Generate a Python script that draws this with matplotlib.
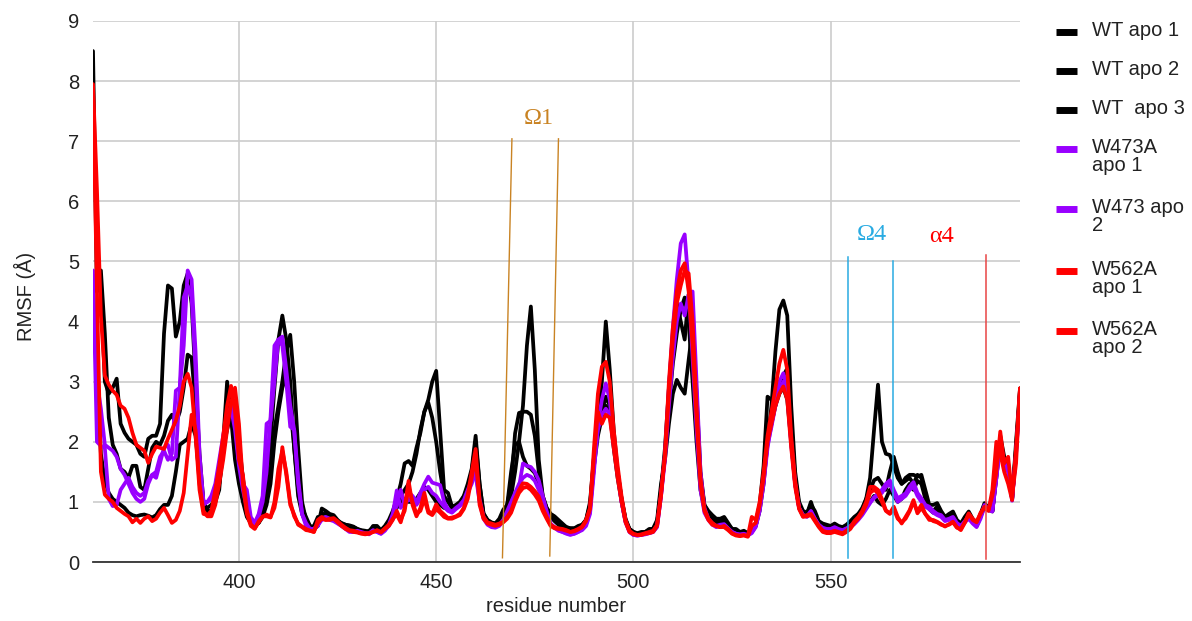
import matplotlib
matplotlib.use("Agg")
import matplotlib.pyplot as plt
from matplotlib.lines import Line2D
import numpy as np

plt.rcParams['font.family'] = ['Liberation Sans', 'DejaVu Sans']

residues = list(range(363, 599))

wt_apo_1 = (
    [8.5,4.5,4.6,3.0,2.8,2.9,3.05,2.3,2.15,2.05, 2.0,1.95,1.8,1.75,2.05,2.1,2.1,2.3,3.8,4.6,
     4.55,3.75,4.0,4.6,4.8,4.3,3.0,1.8,1.0,0.85, 0.85,1.0,1.2,2.0,3.0,2.4,1.7,1.3]
    + [1.0,0.75,0.65,0.65,0.75,1.0,1.4,2.0,2.9,3.7, 4.1,3.7,3.0,1.9,1.2,0.9,0.75,0.6,0.55,0.6]
    + [0.89,0.85,0.8,0.78,0.7,0.64,0.62,0.61,0.59,0.55, 0.53,0.52,0.5,0.6,0.6,0.53,0.6,0.7,0.85,1.05,
       1.3,1.64,1.68,1.6,1.9,2.15,2.5,2.7,3.0,3.18, 2.2,1.2,1.15,0.92,0.95,1.0,1.1,1.3,1.55,2.1]
    + [1.3,0.8,0.7,0.65,0.64,0.7,0.8,0.95,1.1,1.5, 2.0,2.6,3.6,4.25,3.2,1.7,1.1,0.9,0.8,0.75,
       0.68,0.62,0.58,0.56,0.56,0.58,0.62,0.7,0.95,1.7]
    + [2.3,3.0,4.0,3.2,2.2,1.5,1.05,0.72,0.55,0.5, 0.48,0.5,0.5,0.55,0.55,0.65,1.2]
    + [1.9,2.9,3.8,4.3,4.0,3.7,4.45,3.8,2.6,1.4, 0.95,0.85,0.78,0.72,0.72]
    + [0.75,0.65,0.55,0.55,0.5,0.52,0.48,0.5,0.6,0.85, 1.3,2.0,2.6,3.5,4.2,4.35,4.1,2.6,1.5,1.0,
       0.85,0.82,0.95,0.85,0.68,0.64,0.62,0.6,0.64,0.6, 0.58,0.62]
    + [0.68,0.75,0.8,0.86,1.05,1.4,2.2,2.95,2.0,1.8, 1.78,1.6,1.4,1.3,1.4,1.45,1.45,1.42,1.45,1.2,
       0.95,0.95,0.98,0.85,0.75,0.8,0.84,0.7,0.64,0.75, 0.84,0.72,0.62,0.8,0.98,0.9,0.84,1.5,2.1,1.75,
       1.64,1.03,2.0,2.89]
)

wt_apo_2 = (
    [4.5,4.8,4.85,3.8,2.4,1.95,1.8,1.55,1.5,1.4, 1.6,1.6,1.25,1.2,1.55,1.9,2.0,1.95,2.1,2.35,
     2.45,2.3,2.5,2.9,3.45,3.4,2.6,1.6,1.0,0.8, 0.85,1.0,1.4,1.9,2.2,2.5,2.3,1.7]
    + [1.2,0.8,0.65,0.6,0.65,0.8,1.1,1.5,2.2,2.6, 3.0,3.5,3.78,3.0,1.9,1.0,0.7,0.6,0.55,0.7]
    + [0.8,0.8,0.78,0.75,0.68,0.65,0.62,0.6,0.58,0.55, 0.52,0.5,0.52,0.58,0.55,0.52,0.58,0.68,0.8,0.95,
       1.1,1.2,1.3,1.5,1.8,2.2,2.5,2.65,2.4,2.0, 1.5,1.1,1.0,0.9,0.92,0.98,1.08,1.25,1.5,2.0]
    + [1.3,0.81,0.7,0.66,0.64,0.72,0.87,0.95,1.3,2.14, 2.48,2.5,2.5,2.45,2.1,1.5,1.1,0.9,0.8,0.76,
       0.7,0.64,0.58,0.56,0.56,0.6,0.62,0.7,1.0,1.75]
    + [2.2,2.5,2.75,2.6,2.0,1.5,1.05,0.7,0.55,0.5, 0.47,0.48,0.5,0.53,0.56,0.7,1.3]
    + [1.7,2.3,2.8,3.03,2.9,2.8,3.36,3.9,2.8,1.5, 0.95,0.8,0.72,0.68,0.7]
    + [0.7,0.62,0.55,0.52,0.48,0.5,0.46,0.52,0.65,0.95, 1.6,2.75,2.7,2.6,2.9,3.1,3.22,2.3,1.4,0.95,
       0.82,0.8,1.0,0.8,0.66,0.62,0.6,0.58,0.62,0.58, 0.56,0.6]
    + [0.65,0.72,0.8,0.9,1.05,1.2,1.36,1.4,1.3,1.2, 1.5,1.75,1.5,1.3,1.35,1.4,1.3,1.45,1.4,1.1,
       0.9,0.85,0.92,0.8,0.72,0.78,0.8,0.68,0.62,0.72, 0.8,0.7,0.6,0.78,0.95,0.88,0.85,1.45,2.05,1.7,
       1.6,1.05,1.9,2.85]
)

wt_apo_3 = (
    [4.5,3.2,1.8,1.35,1.15,1.05,1.0,0.95,0.9,0.82, 0.78,0.76,0.78,0.79,0.77,0.74,0.78,0.88,0.95,0.95,
     1.1,1.5,1.95,2.0,2.05,2.3,2.1,1.4,0.95,0.9, 0.95,1.05,1.3,1.8,2.3,2.7,2.6,2.0]
    + [1.4,0.9,0.7,0.62,0.65,0.75,0.95,1.3,2.0,2.5, 2.9,3.1,2.6,1.9,1.1,0.8,0.65,0.58,0.6,0.75]
    + [0.75,0.72,0.72,0.7,0.66,0.62,0.6,0.58,0.56,0.54, 0.52,0.5,0.5,0.56,0.55,0.5,0.56,0.65,0.75,0.9,
       1.0,1.05,1.0,1.0,1.05,1.15,1.25,1.2,1.1,1.0, 0.95,0.9,0.88,0.85,0.9,0.95,1.05,1.2,1.45,1.9]
    + [1.2,0.78,0.68,0.62,0.6,0.66,0.78,0.95,1.5,1.95, 2.0,1.75,1.6,1.55,1.48,1.3,1.05,0.85,0.75,0.68,
       0.62,0.58,0.55,0.54,0.55,0.58,0.6,0.68,0.9,1.6]
    + [2.1,2.4,2.6,2.5,1.9,1.4,1.0,0.68,0.52,0.48, 0.46,0.47,0.48,0.5,0.55,0.65,1.15]
    + [1.8,2.6,3.3,3.8,4.2,4.4,4.0,3.0,2.0,1.2, 0.88,0.78,0.72,0.66,0.65]
    + [0.68,0.6,0.52,0.5,0.47,0.48,0.45,0.5,0.6,0.9, 1.4,2.0,2.3,2.6,2.8,2.9,2.7,2.0,1.3,0.92,
       0.8,0.78,0.9,0.75,0.64,0.6,0.58,0.56,0.6,0.56, 0.55,0.58]
    + [0.62,0.7,0.78,0.85,0.95,1.0,1.1,1.0,0.95,1.05, 1.2,1.1,1.0,1.05,1.2,1.3,1.2,1.35,1.3,1.05,
       0.88,0.82,0.88,0.78,0.7,0.75,0.78,0.66,0.6,0.7, 0.78,0.68,0.6,0.76,0.92,0.86,0.85,1.4,2.0,1.7,
       1.55,1.05,1.85,2.8]
)

w473a_apo_1 = (
    [4.85,2.0,1.93,1.9,1.05,0.93,0.95,1.2,1.3,1.4, 1.25,1.15,1.1,1.15,1.35,1.45,1.5,1.75,1.85,1.7,
     1.8,2.85,2.9,3.6,4.85,4.7,3.5,1.8,1.0,1.0, 1.05,1.25,1.6,2.0,2.4,2.6,2.3,1.7]
    + [1.3,1.2,0.75,0.65,0.8,1.1,2.3,2.35,3.0,3.7, 3.75,3.2,2.6,2.2,1.4,0.8,0.65,0.55,0.55,0.6]
    + [0.72,0.75,0.72,0.7,0.65,0.6,0.55,0.5,0.5,0.52, 0.5,0.48,0.46,0.52,0.5,0.47,0.52,0.62,0.8,1.19,
       0.9,1.0,1.15,1.1,1.0,1.15,1.3,1.42,1.32,1.3, 1.28,1.0,0.88,0.84,0.9,0.95,1.03,1.2,1.36,1.45]
    + [1.0,0.72,0.62,0.58,0.57,0.6,0.68,0.8,0.95,1.1, 1.25,1.64,1.6,1.58,1.5,1.36,1.1,0.85,0.64,0.58,
       0.53,0.5,0.47,0.45,0.47,0.5,0.53,0.6,0.8,1.5]
    + [2.3,2.7,2.97,2.7,2.0,1.5,1.0,0.68,0.5,0.45, 0.44,0.45,0.47,0.48,0.5,0.6,1.1]
    + [1.8,2.9,3.9,4.7,5.3,5.45,4.6,3.4,2.2,1.2, 0.82,0.7,0.62,0.58,0.6]
    + [0.62,0.55,0.5,0.47,0.45,0.46,0.44,0.48,0.58,0.85, 1.3,1.9,2.3,2.7,3.0,3.14,2.9,2.0,1.3,0.9,
       0.78,0.76,0.85,0.72,0.62,0.57,0.55,0.55,0.58,0.55, 0.53,0.56]
    + [0.6,0.65,0.72,0.8,0.9,1.0,1.06,1.15,1.2,1.3, 1.36,1.2,1.06,1.1,1.14,1.25,1.33,1.15,1.06,0.95,
       0.92,0.85,0.8,0.78,0.7,0.72,0.75,0.65,0.6,0.68, 0.75,0.66,0.6,0.75,0.95,0.88,0.85,1.4,2.0,1.65,
       1.55,1.05,1.8,2.8]
)

w473_apo_2 = (
    [4.5,3.0,2.55,1.95,1.9,1.85,1.75,1.55,1.45,1.3, 1.15,1.05,1.0,1.05,1.3,1.45,1.4,1.65,1.9,1.95,
     1.7,1.75,2.9,4.4,4.6,4.4,3.2,1.6,0.95,1.0, 1.1,1.3,1.7,2.1,2.45,2.55,2.2,1.6]
    + [1.2,0.9,0.7,0.62,0.75,1.0,1.5,2.4,3.6,3.7, 3.6,3.0,2.25,2.2,1.3,0.8,0.6,0.55,0.55,0.62]
    + [0.7,0.72,0.7,0.68,0.64,0.6,0.56,0.52,0.5,0.5, 0.48,0.47,0.48,0.53,0.5,0.47,0.53,0.6,0.72,0.95,
       1.2,0.95,1.05,1.0,0.95,1.05,1.2,1.25,1.15,1.1, 1.0,0.92,0.85,0.82,0.88,0.93,1.0,1.15,1.3,1.5]
    + [1.05,0.75,0.64,0.6,0.58,0.62,0.7,0.85,1.0,1.15, 1.3,1.4,1.45,1.42,1.35,1.2,1.0,0.8,0.62,0.57,
       0.52,0.5,0.48,0.46,0.47,0.5,0.55,0.63,0.85,1.6]
    + [2.2,2.45,2.55,2.45,1.95,1.45,1.0,0.66,0.5,0.45, 0.44,0.45,0.46,0.48,0.5,0.58,1.1]
    + [1.7,2.6,3.4,4.0,4.3,4.1,4.45,4.5,3.0,1.5, 0.9,0.72,0.64,0.6,0.62]
    + [0.63,0.56,0.5,0.47,0.46,0.47,0.45,0.5,0.6,0.88, 1.35,1.95,2.25,2.6,2.85,3.0,2.8,1.95,1.3,0.9,
       0.78,0.75,0.84,0.72,0.6,0.56,0.54,0.54,0.57,0.54, 0.52,0.55]
    + [0.58,0.63,0.7,0.78,0.88,0.98,1.08,1.1,1.15,1.25, 1.3,1.15,1.0,1.05,1.1,1.2,1.25,1.1,1.0,0.92,
       0.88,0.82,0.78,0.75,0.68,0.7,0.72,0.62,0.58,0.66, 0.72,0.64,0.58,0.72,0.92,0.86,0.84,1.4,1.95,1.6,
       1.5,1.02,1.8,2.8]
)

w562a_apo_1 = (
    [7.95,6.2,4.1,3.1,2.95,2.85,2.78,2.6,2.55,2.4, 2.15,1.95,1.9,1.85,1.65,1.8,1.92,1.9,1.88,2.05,
     2.2,2.35,2.6,3.0,3.13,2.9,2.1,1.2,0.8,0.78, 0.85,1.2,1.6,2.1,2.6,2.93,2.5,1.7]
    + [1.45,0.86,0.63,0.56,0.66,0.75,0.79,0.75,0.9,1.25, 1.91,1.45,0.95,0.79,0.62,0.58,0.53,0.52,0.5,0.65]
    + [0.72,0.7,0.72,0.73,0.68,0.62,0.57,0.53,0.52,0.5, 0.48,0.48,0.48,0.5,0.53,0.5,0.56,0.62,0.72,0.79,
       0.66,0.9,1.35,0.95,0.76,0.9,1.15,0.85,0.8,0.96, 0.85,0.79,0.73,0.74,0.76,0.8,0.9,1.12,1.5,1.88]
    + [1.03,0.75,0.66,0.64,0.62,0.64,0.67,0.75,0.85,1.05, 1.2,1.31,1.3,1.25,1.18,1.09,0.9,0.75,0.62,0.58,
       0.56,0.55,0.53,0.5,0.52,0.55,0.59,0.7,0.9,1.9]
    + [2.8,3.25,3.33,3.0,2.2,1.6,1.09,0.7,0.52,0.47, 0.45,0.45,0.47,0.48,0.5,0.6,1.1]
    + [1.81,3.0,3.9,4.5,4.85,4.97,4.5,3.6,2.4,1.3, 0.85,0.7,0.62,0.6,0.58]
    + [0.6,0.55,0.48,0.45,0.44,0.45,0.43,0.75,0.7,1.0, 1.5,2.1,2.5,2.9,3.3,3.53,3.2,2.1,1.35,0.9,
       0.76,0.78,0.8,0.7,0.6,0.52,0.5,0.5,0.52,0.5, 0.48,0.52]
    + [0.58,0.68,0.75,0.85,1.0,1.25,1.25,1.2,1.05,0.86, 0.81,0.92,0.75,0.64,0.75,0.86,1.03,0.81,0.9,0.8,
       0.7,0.7,0.67,0.63,0.59,0.63,0.67,0.58,0.53,0.65, 0.81,0.72,0.67,0.8,0.92,0.86,1.1,1.5,2.17,1.64,
       1.75,1.1,1.64,2.89]
)

w562a_apo_2 = (
    [7.9,4.5,1.5,1.12,1.05,1.0,0.9,0.85,0.8,0.76, 0.66,0.72,0.65,0.72,0.76,0.68,0.72,0.82,0.9,0.78,
     0.65,0.7,0.85,1.15,1.8,2.45,2.2,1.3,0.85,0.76, 0.76,0.95,1.3,1.7,2.2,2.65,2.9,2.3]
    + [1.3,0.8,0.6,0.55,0.68,0.76,0.76,0.74,1.0,1.55, 1.85,1.5,1.0,0.76,0.64,0.59,0.55,0.52,0.5,0.7]
    + [0.75,0.7,0.7,0.72,0.66,0.6,0.55,0.52,0.5,0.49, 0.47,0.46,0.47,0.5,0.52,0.49,0.55,0.6,0.7,0.85,
       0.7,0.85,1.25,1.0,0.8,0.85,1.05,0.82,0.78,0.88, 0.82,0.75,0.72,0.72,0.75,0.78,0.88,1.05,1.4,1.75]
    + [0.95,0.72,0.64,0.62,0.6,0.62,0.66,0.72,0.82,1.0, 1.15,1.23,1.25,1.2,1.12,1.02,0.85,0.72,0.6,0.56,
       0.55,0.54,0.52,0.5,0.51,0.54,0.58,0.68,0.88,1.75]
    + [2.5,2.3,2.45,2.4,1.9,1.4,1.0,0.66,0.5,0.46, 0.45,0.46,0.48,0.5,0.52,0.62,1.15]
    + [1.75,2.8,3.7,4.3,4.6,4.85,4.8,4.0,2.6,1.4, 0.88,0.72,0.65,0.6,0.58]
    + [0.58,0.53,0.47,0.44,0.43,0.44,0.42,0.6,0.65,0.95, 1.4,2.0,2.3,2.6,2.8,2.92,2.7,1.9,1.25,0.88,
       0.75,0.76,0.78,0.68,0.58,0.5,0.48,0.48,0.5,0.48, 0.46,0.5]
    + [0.55,0.65,0.72,0.82,0.95,1.15,1.2,1.15,1.0,0.85, 0.8,0.88,0.72,0.66,0.72,0.84,1.0,0.84,0.95,0.8,
       0.73,0.68,0.66,0.62,0.6,0.62,0.66,0.57,0.55,0.66, 0.8,0.7,0.66,0.82,0.9,0.85,1.2,2.0,1.8,1.5,
       1.3,1.03,1.9,2.89]
)

series_labels = ["WT apo 1", "WT apo 2", "WT  apo 3", "W473A\napo 1", "W473 apo\n2",
                 "W562A\napo 1", "W562A\napo 2"]
series_values = [wt_apo_1, wt_apo_2, wt_apo_3, w473a_apo_1, w473_apo_2, w562a_apo_1, w562a_apo_2]
series_colors = ["#000000", "#000000", "#000000", "#9900FF", "#9900FF", "#FF0000", "#FF0000"]

x_ticks = [400, 450, 500, 550]
y_ticks = list(range(0, 10))

W, H = 1192, 621
fig = plt.figure(figsize=(W / 100, H / 100), dpi=100)
ax = fig.add_axes([93 / W, 1 - 562 / H, (1020 - 93) / W, (562 - 21) / H])

for vals, col in zip(series_values, series_colors):
    ax.plot(residues, vals, color=col, lw=2.7, solid_joinstyle='round', solid_capstyle='round')

ax.set_xlim(363, 598)
ax.set_ylim(0, 9)
ax.set_xticks(x_ticks)
ax.set_yticks(y_ticks)
ax.grid(True, color='#cccccc', lw=1.2)
ax.set_axisbelow(True)
for s in ['top', 'right', 'left']:
    ax.spines[s].set_visible(False)
ax.spines['bottom'].set_color('#333333')
ax.spines['bottom'].set_linewidth(1.3)
ax.spines['bottom'].set_zorder(5)
ax.tick_params(axis='both', length=0, labelsize=14.5, colors='#222222')
ax.tick_params(axis='y', pad=10)
ax.tick_params(axis='x', pad=8)

fig.text(25 / W, 1 - 296 / H, "RMSF (Å)", rotation=90, ha='center', va='center',
         fontsize=14.5, color='#222222')
fig.text(556 / W, 1 - 607 / H, "residue number", ha='center', va='center',
         fontsize=14.5, color='#222222')

# region annotations
om1_col = '#C98323'
ax.plot([466.8, 469.2], [0.07, 7.04], color=om1_col, lw=1.0, clip_on=False)
ax.plot([478.8, 481.0], [0.1, 7.04], color=om1_col, lw=1.0, clip_on=False)
ax.text(476.0, 7.38, "Ω1", color=om1_col, fontsize=17.5, family='Liberation Serif',
        ha='center', va='center')
om4_col = '#29ABE2'
ax.plot([554.4, 554.4], [0.07, 5.08], color=om4_col, lw=1.1)
ax.plot([565.8, 565.8], [0.07, 5.01], color=om4_col, lw=1.1)
ax.text(560.5, 5.44, "Ω4", color=om4_col, fontsize=17.5, family='Liberation Serif',
        ha='center', va='center')
a4_col = '#E84545'
ax.plot([589.4, 589.4], [0.05, 5.1], color=a4_col, lw=1.1)
ax.text(578.2, 5.42, "α4", color='#FF0000', fontsize=17.5, family='Liberation Serif',
        ha='center', va='center')

# legend (drawn manually so markers align with first text line)
marker_y = [31.6, 71, 110, 149, 209, 271, 331]
for lab, col, my in zip(series_labels, series_colors, marker_y):
    yf = 1 - my / H
    fig.add_artist(Line2D([1056 / W, 1077 / W], [yf, yf], color=col, lw=5,
                          transform=fig.transFigure, solid_capstyle='butt'))
    fig.text(1092 / W, 1 - (my - 11) / H, lab, ha='left', va='top', fontsize=14.5,
             color='#222222', linespacing=0.95)

fig.savefig("out.png", dpi=100)
